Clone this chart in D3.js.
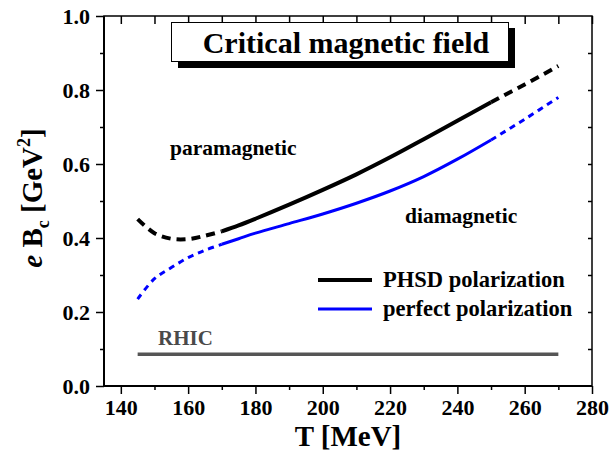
<!DOCTYPE html>
<html>
<head>
<meta charset="utf-8">
<script src="https://cdn.jsdelivr.net/npm/d3@7"></script>
<style>
  body { margin: 0; background: #fff; }
  text { font-family: "Liberation Serif", "Times New Roman", serif; font-weight: bold; }
</style>
</head>
<body>
<script>
// data
var temps   = [145, 150, 155, 160, 165, 170, 175, 180, 190, 200, 210, 220, 230, 240, 250, 260, 270]
var phsd    = [0.451, 0.413, 0.398, 0.397, 0.406, 0.418, 0.434, 0.452, 0.49, 0.53, 0.572, 0.618, 0.667, 0.717, 0.767, 0.815, 0.865]
var perfect = [0.235, 0.29, 0.32, 0.347, 0.367, 0.383, 0.398, 0.413, 0.439, 0.465, 0.494, 0.527, 0.566, 0.613, 0.665, 0.721, 0.78]
var rhic = 0.086
var rhicRange = [145, 270]
var xTicks = [140, 160, 180, 200, 220, 240, 260, 280]
var yTicks = [0.0, 0.2, 0.4, 0.6, 0.8, 1.0]
var solidFrom = 170, solidTo = 250

var width = 610, height = 458
var mL = 104, mR = 592, mT = 16, mB = 386

var x = d3.scaleLinear().domain([135, 280]).range([mL, mR])
var y = d3.scaleLinear().domain([0, 1]).range([mB, mT])

var svg = d3.select('body').append('svg').attr('width', width).attr('height', height)

// frame
svg.append('rect').attr('x', mL).attr('y', mT).attr('width', mR - mL).attr('height', mB - mT)
   .attr('fill', 'none').attr('stroke', '#000').attr('stroke-width', 1.5)

// bottom axis
var xMinor = d3.range(150, 281, 20)
svg.append('g').attr('transform', 'translate(0,' + mB + ')')
   .call(d3.axisBottom(x).tickValues(xTicks).tickFormat(d3.format('d')).tickSize(8).tickPadding(5))
   .call(g => g.select('.domain').attr('stroke-width', 2).attr('d', 'M' + mL + ',0H' + mR))
   .call(g => g.selectAll('line').attr('stroke-width', 1.5))
   .call(g => g.selectAll('text').attr('font-size', 22).attr('font-family', 'Liberation Serif').attr('font-weight', 'bold'))
svg.append('g').attr('transform', 'translate(0,' + mB + ')')
   .call(d3.axisBottom(x).tickValues(xMinor).tickFormat('').tickSize(4))
   .call(g => g.select('.domain').remove())
   .call(g => g.selectAll('line').attr('stroke-width', 1.5))

// top axis (inside ticks)
svg.append('g').attr('transform', 'translate(0,' + mT + ')')
   .call(d3.axisBottom(x).tickValues(d3.range(140, 281, 10)).tickFormat('').tickSize(8))
   .call(g => g.select('.domain').remove())
   .call(g => g.selectAll('line').attr('stroke-width', 1.5))

// left axis
var yMinor = [0.1, 0.3, 0.5, 0.7, 0.9]
svg.append('g').attr('transform', 'translate(' + mL + ',0)')
   .call(d3.axisLeft(y).tickValues(yTicks).tickFormat(d3.format('.1f')).tickSize(8).tickPadding(6))
   .call(g => g.select('.domain').attr('stroke-width', 2).attr('d', 'M0,' + mT + 'V' + mB))
   .call(g => g.selectAll('line').attr('stroke-width', 1.5))
   .call(g => g.selectAll('text').attr('font-size', 22).attr('font-family', 'Liberation Serif').attr('font-weight', 'bold'))
svg.append('g').attr('transform', 'translate(' + mL + ',0)')
   .call(d3.axisLeft(y).tickValues(yMinor).tickFormat('').tickSize(4))
   .call(g => g.select('.domain').remove())
   .call(g => g.selectAll('line').attr('stroke-width', 1.5))

// right axis (inside ticks)
svg.append('g').attr('transform', 'translate(' + mR + ',0)')
   .call(d3.axisRight(y).tickValues([0.1, 0.2, 0.3, 0.4, 0.5, 0.6, 0.7, 0.8, 0.9]).tickFormat('').tickSize(-4))
   .call(g => g.select('.domain').remove())
   .call(g => g.selectAll('line').attr('stroke-width', 1.5))

// RHIC line
svg.append('line').attr('x1', x(rhicRange[0])).attr('x2', x(rhicRange[1]))
   .attr('y1', y(rhic)).attr('y2', y(rhic)).attr('stroke', '#555').attr('stroke-width', 3.5)
svg.append('text').attr('x', 158).attr('y', 345).attr('font-size', 21).attr('fill', '#4a4a4a').text('RHIC')

// curves
var line = d3.line().x(d => x(d[0])).y(d => y(d[1])).curve(d3.curveCatmullRom)

function drawSeries(vals, color, w, dash) {
  var pts = temps.map((t, i) => [t, vals[i]])
  var a = pts.filter(p => p[0] <= solidFrom)
  var b = pts.filter(p => p[0] >= solidFrom && p[0] <= solidTo)
  var c = pts.filter(p => p[0] >= solidTo)
  ;[[a, dash], [b, null], [c, dash]].forEach(s => {
    svg.append('path').attr('d', line(s[0])).attr('fill', 'none')
       .attr('stroke', color).attr('stroke-width', w)
       .attr('stroke-dasharray', s[1])
  })
}
drawSeries(perfect, '#0000ff', 3, '6,5')
drawSeries(phsd, '#000', 4, '9,6')

// title box
svg.append('rect').attr('x', 178).attr('y', 28).attr('width', 337).attr('height', 40).attr('fill', '#000')
svg.append('rect').attr('x', 171.5).attr('y', 22.5).attr('width', 337).attr('height', 39)
   .attr('fill', '#fff').attr('stroke', '#000').attr('stroke-width', 1)
svg.append('text').attr('x', 346).attr('y', 53).attr('text-anchor', 'middle').attr('font-size', 30)
   .text('Critical magnetic field')

// region labels
svg.append('text').attr('x', 170).attr('y', 155).attr('font-size', 21.5).text('paramagnetic')
svg.append('text').attr('x', 405).attr('y', 223).attr('font-size', 21.5).text('diamagnetic')

// legend
var legend = [['PHSD polarization', '#000', 4, 280], ['perfect polarization', '#0000ff', 3, 309]]
legend.forEach(l => {
  svg.append('line').attr('x1', 318).attr('x2', 372).attr('y1', l[3]).attr('y2', l[3])
     .attr('stroke', l[1]).attr('stroke-width', l[2])
  svg.append('text').attr('x', 383).attr('y', l[3] + 7).attr('font-size', 22.5).text(l[0])
})

// axis titles
svg.append('text').attr('x', 348).attr('y', 446).attr('text-anchor', 'middle').attr('font-size', 29).text('T [MeV]')

var yt = svg.append('text').attr('transform', 'translate(42,198) rotate(-90)').attr('text-anchor', 'middle').attr('font-size', 29)
yt.append('tspan').attr('font-style', 'italic').text('e')
yt.append('tspan').text(' B')
yt.append('tspan').attr('font-size', 18).attr('dy', 7).text('c')
yt.append('tspan').attr('dy', -7).text(' [GeV')
yt.append('tspan').attr('font-size', 18).attr('dy', -12).text('2')
yt.append('tspan').attr('dy', 12).text(']')
</script>
</body>
</html>
